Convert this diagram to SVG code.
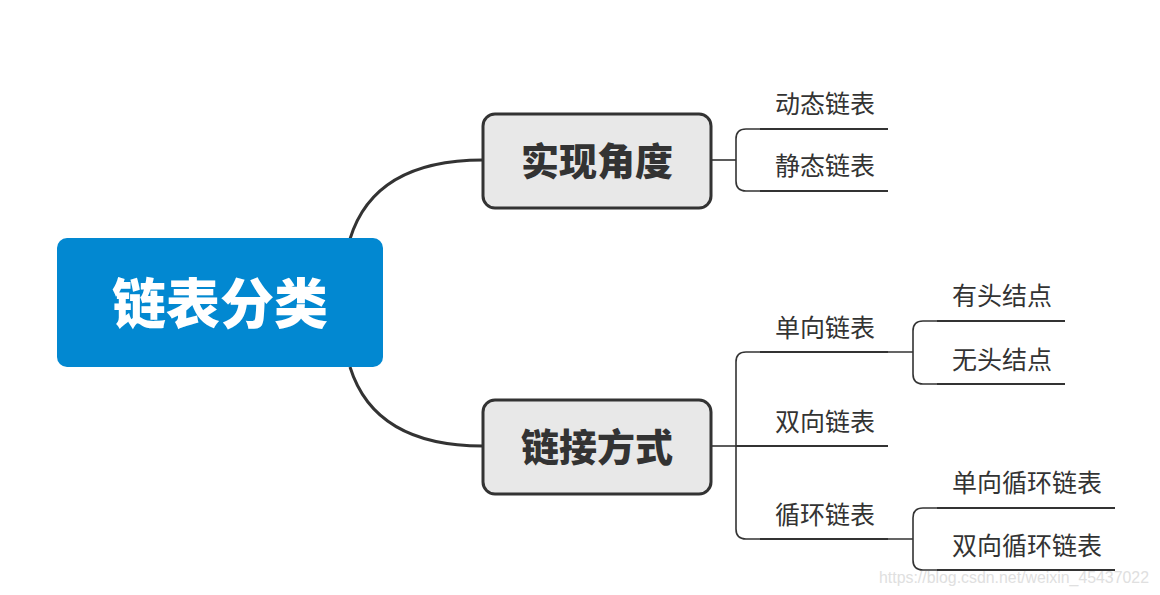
<svg xmlns="http://www.w3.org/2000/svg" width="1160" height="595" viewBox="0 0 1160 595">
<style>
.bg{fill:#ffffff}
.main{fill:none;stroke:#333333;stroke-width:3}
.br{fill:none;stroke:#333333;stroke-width:1.6}
.ul{fill:none;stroke:#333333;stroke-width:2}
.topic{fill:#e8e8e8;stroke:#333333;stroke-width:3}
.root{fill:#0288d1}
.tt{font-family:"Noto Sans CJK SC","Noto Sans",sans-serif;font-weight:900;font-size:38px;fill:#333333;text-anchor:middle}
.rt{font-family:"Noto Sans CJK SC","Noto Sans",sans-serif;font-weight:900;font-size:54px;fill:#ffffff;text-anchor:middle}
.lb{font-family:"Noto Sans CJK SC","Noto Sans",sans-serif;font-size:25px;fill:#333333}
.wm{font-family:"Liberation Sans",Arial,sans-serif;font-size:16px;fill:#e0e0e0}
</style>
<rect class="bg" x="0" y="0" width="1160" height="595"/>
<g id="connectors">
  <path class="main" d="M350,239 C365,190 405,160 483,160"/>
  <path class="main" d="M350,367 C365,415 405,446 483,446"/>
  <path class="br" d="M711,160 H736"/>
  <path class="br" d="M760,129 H746 Q736,129 736,139 V181 Q736,191 746,191 H760"/>
  <path class="ul" d="M760,129 H888 M760,191 H888"/>
  <path class="br" d="M711,446 H736"/>
  <path class="br" d="M760,352 H746 Q736,352 736,362 V529 Q736,539 746,539 H760"/>
  <path class="ul" d="M760,352 H888 M736,446 H888 M760,539 H888"/>
  <path class="br" d="M888,352 H913 M888,539 H913"/>
  <path class="br" d="M937,321 H923 Q913,321 913,331 V374 Q913,384 923,384 H937"/>
  <path class="ul" d="M937,321 H1065 M937,384 H1065"/>
  <path class="br" d="M937,508 H923 Q913,508 913,518 V560 Q913,570 923,570 H937"/>
  <path class="ul" d="M937,508 H1115 M937,570 H1115"/>
</g>
<g id="root">
  <rect class="root" x="57" y="238" width="326" height="129" rx="10"/>
  <text class="rt" x="220" y="324">链表分类</text>
</g>
<g id="n-shixian">
  <rect class="topic" x="483" y="114" width="228" height="94" rx="12"/>
  <text class="tt" x="597" y="175">实现角度</text>
</g>
<g id="n-lianjie">
  <rect class="topic" x="483" y="400" width="228" height="94" rx="12"/>
  <text class="tt" x="597" y="461">链接方式</text>
</g>
<g id="n-dongtai"><text class="lb" x="775" y="113">动态链表</text></g>
<g id="n-jingtai"><text class="lb" x="775" y="175">静态链表</text></g>
<g id="n-danxiang"><text class="lb" x="775" y="337">单向链表</text></g>
<g id="n-shuangxiang"><text class="lb" x="775" y="431">双向链表</text></g>
<g id="n-xunhuan"><text class="lb" x="775" y="524">循环链表</text></g>
<g id="n-youtou"><text class="lb" x="952" y="305">有头结点</text></g>
<g id="n-wutou"><text class="lb" x="952" y="369">无头结点</text></g>
<g id="n-danxunhuan"><text class="lb" x="952" y="492">单向循环链表</text></g>
<g id="n-shuangxunhuan"><text class="lb" x="952" y="555">双向循环链表</text></g>
<text class="wm" x="879" y="583" textLength="270" lengthAdjust="spacingAndGlyphs">https://blog.csdn.net/weixin_45437022</text>
</svg>
